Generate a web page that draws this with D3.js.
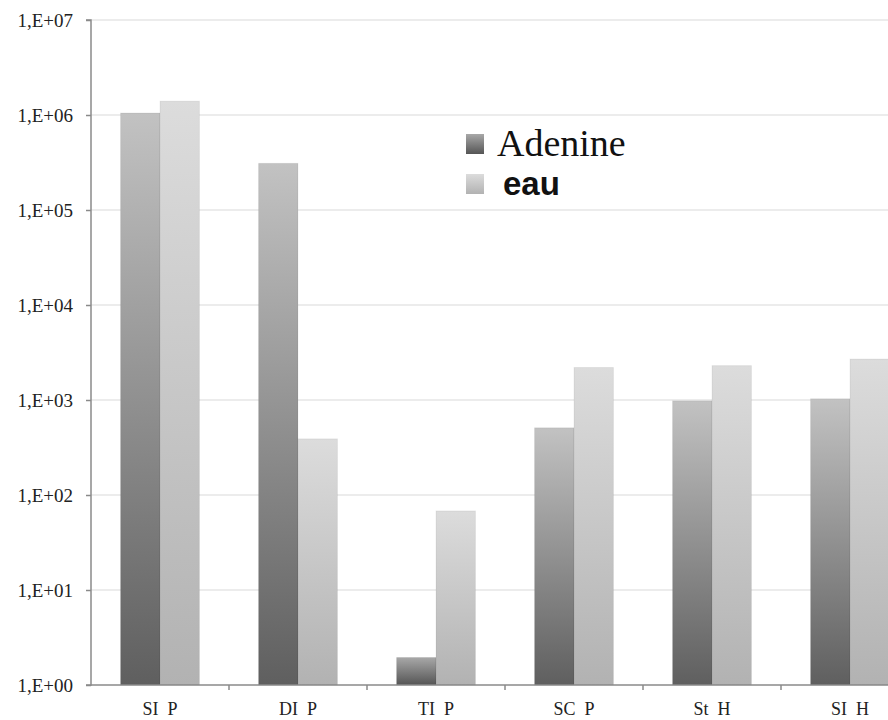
<!DOCTYPE html>
<html><head><meta charset="utf-8">
<script src="https://cdn.jsdelivr.net/npm/d3@7"></script>
<style>body{margin:0;background:#fff}svg{display:block}</style>
</head><body><div id="chart"></div>
<script>
const categories = ["SI  P", "DI  P", "TI  P", "SC  P", "St  H", "SI  H"];
const seriesNames = ["Adenine", "eau"];
const adenine = [1.05e6, 3.1e5, 1.95, 5.1e2, 9.8e2, 1.03e3];
const eau = [1.4e6, 3.9e2, 68, 2.2e3, 2.3e3, 2.7e3];
const yTicks = [1, 10, 100, 1e3, 1e4, 1e5, 1e6, 1e7];
const yTickLabels = ["1,E+00","1,E+01","1,E+02","1,E+03","1,E+04","1,E+05","1,E+06","1,E+07"];

(function () {
const W = 888, H = 720;
const svg = d3.select("#chart").append("svg").attr("width", W).attr("height", H);
const defs = svg.append("defs");
function grad(id, c1, c2) {
  const g = defs.append("linearGradient").attr("id", id).attr("x1", 0).attr("y1", 0).attr("x2", 0).attr("y2", 1);
  g.append("stop").attr("offset", "0%").attr("stop-color", c1);
  g.append("stop").attr("offset", "100%").attr("stop-color", c2);
}
grad("gA", "#c2c2c2", "#5f5f5f");
grad("gB", "#dcdcdc", "#b2b2b2");
grad("gAs", "#a8a8a8", "#555555");
const fills = ["url(#gA)", "url(#gB)"];

const mLeft = 91, mTop = 20, mBottom = 685;
const x = d3.scaleBand().domain(categories).range([mLeft, mLeft + 6 * 138]).paddingInner(0).paddingOuter(0);
const xs = d3.scaleBand().domain(seriesNames).range([0, x.bandwidth()]).paddingInner(0).paddingOuter(0.75);
const y = d3.scaleLog().domain([1, 1e7]).range([mBottom, mTop]);

// gridlines
svg.append("g").selectAll("line").data(yTicks.slice(1)).join("line")
  .attr("x1", mLeft).attr("x2", W).attr("y1", d => y(d)).attr("y2", d => y(d))
  .attr("stroke", "#d9d9d9").attr("stroke-width", 1.2);

// bars
const data = categories.map((c, i) => ({c, vals: [adenine[i], eau[i]]}));
const groups = svg.append("g").selectAll("g").data(data).join("g")
  .attr("transform", d => `translate(${x(d.c)},0)`);
groups.selectAll("rect").data(d => d.vals.map((v, j) => ({v, j, name: seriesNames[j]}))).join("rect")
  .attr("x", d => xs(d.name)).attr("width", xs.bandwidth())
  .attr("y", d => y(d.v)).attr("height", d => mBottom - y(d.v))
  .attr("fill", d => (d.j === 0 && d.v < 10) ? "url(#gAs)" : fills[d.j])
  .attr("stroke", "rgba(0,0,0,0.06)").attr("stroke-width", 1);

// y axis
const yAxis = d3.axisLeft(y).tickValues(yTicks).tickFormat((d, i) => yTickLabels[i]).tickSize(5).tickPadding(13);
const ya = svg.append("g").attr("transform", `translate(${mLeft},0)`).call(yAxis);
ya.select(".domain").attr("stroke", "#8a8a8a").attr("stroke-width", 1.5).attr("d", `M-5,${mTop}H0V${mBottom}H-5`);
ya.selectAll(".tick line").attr("stroke", "#8a8a8a").attr("stroke-width", 1.5);
ya.selectAll("text").attr("font-family", "'Liberation Serif', 'Times New Roman', serif").attr("font-size", 19).attr("fill", "#222");

// x axis
const xa = svg.append("g").attr("transform", `translate(0,${mBottom})`);
xa.append("line").attr("x1", mLeft).attr("x2", W).attr("y1", 0).attr("y2", 0).attr("stroke", "#8a8a8a").attr("stroke-width", 1.5);
xa.selectAll("line.t").data(categories.slice(1)).join("line").attr("class", "t")
  .attr("x1", d => x(d)).attr("x2", d => x(d)).attr("y1", 0).attr("y2", 5)
  .attr("stroke", "#8a8a8a").attr("stroke-width", 1.5);
xa.selectAll("text").data(categories).join("text")
  .attr("x", d => x(d) + x.bandwidth() / 2).attr("y", 30)
  .attr("text-anchor", "middle").style("white-space", "pre")
  .attr("font-family", "'Liberation Serif', 'Times New Roman', serif").attr("font-size", 18).attr("fill", "#222")
  .text(d => d);

// legend
const leg = svg.append("g");
const legY = [134, 174];
leg.selectAll("rect").data(seriesNames).join("rect")
  .attr("x", 466).attr("y", (d, i) => legY[i]).attr("width", 18).attr("height", 20)
  .attr("fill", (d, i) => i === 0 ? "url(#gAs)" : "url(#gB)");
leg.append("text").attr("x", 497).attr("y", 156).attr("font-family", "'Liberation Serif', 'Times New Roman', serif")
  .attr("font-size", 38).attr("fill", "#111").text(seriesNames[0]);
leg.append("text").attr("x", 503).attr("y", 195).attr("font-family", "'Liberation Sans', Arial, sans-serif")
  .attr("font-weight", "bold").attr("font-size", 33).attr("fill", "#111").text(seriesNames[1]);
})();
</script></body></html>
